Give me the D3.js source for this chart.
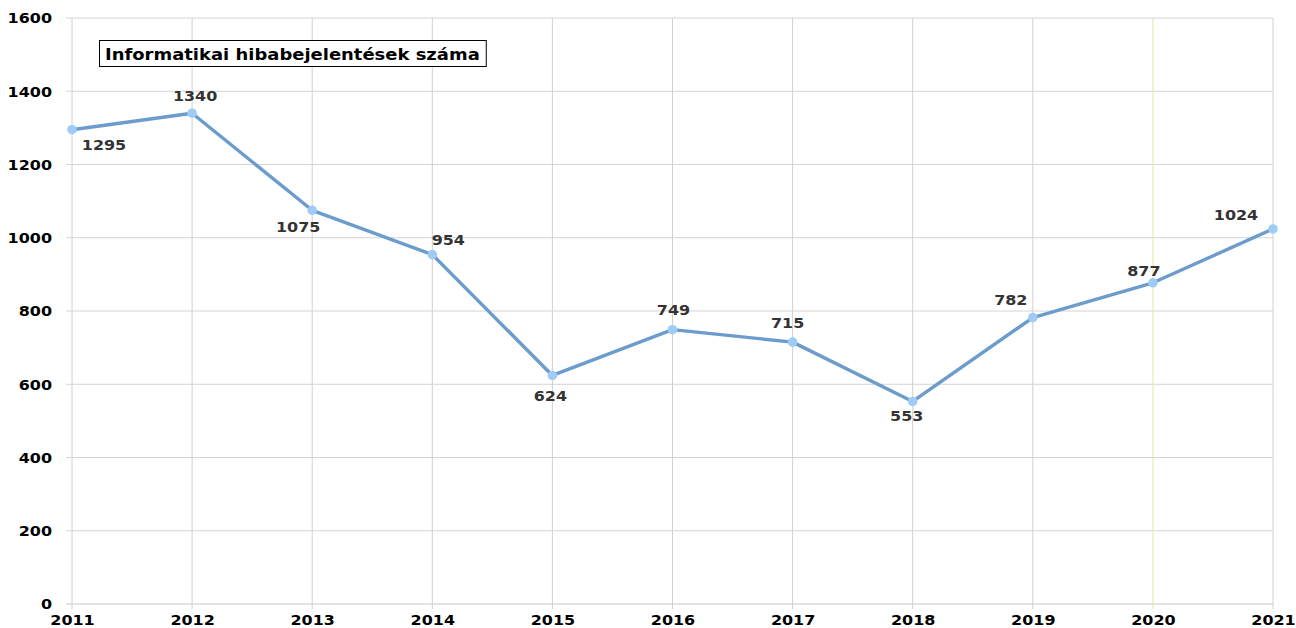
<!DOCTYPE html>
<html><head><meta charset="utf-8">
<script src="https://cdn.jsdelivr.net/npm/d3@7"></script>
<style>body{margin:0;background:#fff}svg{display:block}text{font-family:"DejaVu Sans",Verdana,sans-serif;font-weight:bold}</style>
</head><body><svg id="c" width="1296" height="628"></svg>
<script>
const years = ["2011","2012","2013","2014","2015","2016","2017","2018","2019","2020","2021"];
const values = [1295,1340,1075,954,624,749,715,553,782,877,1024];
const yTicks = [0,200,400,600,800,1000,1200,1400,1600];
const title = "Informatikai hibabejelentések száma";

// layout: data label offsets (px) relative to each point
const labelOffsets = [[32,16],[3,-17],[-14,17],[16,-14],[-2,21],[1,-19],[-5,-19],[-6,15],[-22,-17],[-9,-11],[-37,-14]];

const SX = 1.14;
const svg = d3.select("#c");
const x = d3.scalePoint().domain(years).range([72,1273]);
const y = d3.scaleLinear().domain([0,1600]).range([604,18]);

svg.append("g").selectAll("line").data(yTicks).join("line")
  .attr("x1",66).attr("x2",1273).attr("y1",d=>y(d)).attr("y2",d=>y(d))
  .attr("stroke",d=>d===0?"#c8c8c8":"#d4d4d4").attr("stroke-width",1);
svg.append("g").selectAll("line").data(years).join("line")
  .attr("x1",d=>x(d)).attr("x2",d=>x(d)).attr("y1",y(1600)).attr("y2",609)
  .attr("stroke",d=>d==="2020"?"#e6e6a8":"#d0d0d0").attr("stroke-width",1);

function stretch(sel){
  sel.each(function(){
    const t=d3.select(this);
    const px=+t.attr("x")||0, py=+t.attr("y")||0;
    t.attr("transform",`translate(${px},${py}) scale(${SX},1)`).attr("x",0).attr("y",0);
  });
}

const yAxis = d3.axisLeft(y).tickValues(yTicks).tickFormat(d3.format("d")).tickSize(0).tickPadding(0);
const gy = svg.append("g").attr("transform","translate(52,0)").call(yAxis);
gy.select(".domain").remove();
gy.selectAll("text").attr("font-size",14).attr("fill","#000").attr("font-family","DejaVu Sans").attr("font-weight","bold").attr("dy","0.35em");
stretch(gy.selectAll("text"));

const xAxis = d3.axisBottom(x).tickSize(0).tickPadding(0);
const gx = svg.append("g").attr("transform","translate(0,620)").call(xAxis);
gx.select(".domain").remove();
gx.selectAll("text").attr("font-size",14).attr("fill","#000").attr("font-family","DejaVu Sans").attr("font-weight","bold").attr("dy","0.38em");
stretch(gx.selectAll("text"));

const line = d3.line().x((d,i)=>x(years[i])).y(d=>y(d));
svg.append("path").datum(values).attr("d",line).attr("fill","none")
  .attr("stroke","#6b9ccc").attr("stroke-width",3.4).attr("stroke-linejoin","round");
svg.append("g").selectAll("circle").data(values).join("circle")
  .attr("cx",(d,i)=>x(years[i])).attr("cy",d=>y(d)).attr("r",4.8).attr("fill","#9ecbf7");

const lg = svg.append("g").selectAll("text").data(values).join("text")
  .attr("x",(d,i)=>x(years[i])+labelOffsets[i][0])
  .attr("y",(d,i)=>y(d)+labelOffsets[i][1])
  .attr("text-anchor","middle").attr("dominant-baseline","central")
  .attr("font-size",14).attr("fill","#333").text(d=>d);
stretch(lg);

const tg = svg.append("g");
const tt = tg.append("text").attr("dominant-baseline","central")
  .attr("font-size",16).attr("fill","#000").text(title)
  .attr("transform",`translate(105,54) scale(${SX*0.985},1)`);
const w = tt.node().getComputedTextLength()*SX*0.985;
tg.insert("rect","text").attr("x",99.5).attr("y",40.5).attr("width",w+12).attr("height",26)
  .attr("fill","#fff").attr("stroke","#000").attr("stroke-width",1);
</script></body></html>
